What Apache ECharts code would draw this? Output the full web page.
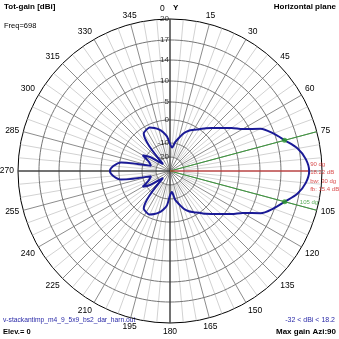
<!DOCTYPE html>
<html>
<head>
<meta charset="utf-8">
<script src="https://cdn.jsdelivr.net/npm/echarts@6/dist/echarts.min.js"></script>
<style>
  html, body { margin: 0; padding: 0; background: #fff; }
  #chart { width: 339px; height: 339px; }
</style>
</head>
<body>
<div id="chart"></div>
<script>
// Azimuth in degrees, clockwise from the Y axis
const azimuth = [
  0, 5, 10, 15, 20, 25, 30, 35, 40, 45, 50, 55, 60, 65, 70, 75, 80, 85,
  90, 95, 100, 105, 110, 115, 120, 125, 130, 135, 140, 145, 150, 155, 160, 165, 170, 175,
  180, 185, 190, 195, 200, 205, 210, 215, 220, 225, 230, 235, 240, 245, 250, 255, 260, 265,
  270, 275, 280, 285, 290, 295, 300, 305, 310, 315, 320, 325, 330, 335, 340, 345, 350, 355
];
// Total gain in dBi at each azimuth
const gainDbi = [
  -10.5, -12.5, -9.4, -6.7, -4.0, -2.3, -1.2, 0.0, 1.5, 2.9, 4.5, 6.6, 8.7, 12.0, 13.8, 15.22, 16.8, 17.8,
  18.22, 17.8, 16.8, 15.22, 13.8, 12.0, 8.7, 6.6, 4.5, 2.9, 1.5, 0.0, -1.2, -2.3, -4.0, -6.7, -9.4, -14.0,
  -12.0, -6.5, -4.3, -2.8, -1.8, -1.0, -1.2, -1.8, -8.0, -25.0, -20.0, -12.0, -8.0, -12.0, -14.0, -15.0, -0.5, 1.8,
  2.7, 1.8, -0.5, -15.0, -14.0, -12.0, -8.0, -12.0, -20.0, -25.0, -8.0, -1.8, -1.2, -1.0, -1.8, -2.8, -4.3, -6.5
];
// Gain levels marked by the rings, outermost first
const ringLevels = [20, 17, 14, 10, 5, 0, -10, -20];
// Beam summary
const maxGain = 18.22;
const maxAzimuth = 90;
const beamEdges = [75, 105];
const beamWidth = 30;
const frontToBack = 15.4;
const gainRange = [-32, 18.2];
const freqMHz = 698;
const elevation = 0;
const fileName = 'v-stackantimp_m4_9_5x9_bs2_dar_harn.out';

// ARRL-style log radial scale: gain (dB) -> fraction of the outer radius
const scaleKnots = [
  [-40, 0], [-30, 0.046], [-20, 0.092], [-10, 0.184], [0, 0.336],
  [5, 0.454], [10, 0.592], [14, 0.730], [17, 0.862], [20, 1]
];
function gainToRadius(db) {
  if (db <= scaleKnots[0][0]) return 0;
  for (let i = 1; i < scaleKnots.length; i++) {
    const [d0, r0] = scaleKnots[i - 1];
    const [d1, r1] = scaleKnots[i];
    if (db <= d1) {
      const t = (db - d0) / (d1 - d0);
      if (r0 <= 0) return r1 * t;
      return Math.exp(Math.log(r0) + t * (Math.log(r1) - Math.log(r0)));
    }
  }
  return 1;
}
function gainAt(az) {
  return gainDbi[azimuth.indexOf(az)];
}

const series = [];
const innerR = gainToRadius(ringLevels[ringLevels.length - 1]);

// Spokes every 5 degrees, darker every 15
for (let a = 0; a < 360; a += 5) {
  const major = a % 15 === 0;
  series.push({
    type: 'line', coordinateSystem: 'polar', showSymbol: false, silent: true,
    data: [[major ? 0 : innerR, a], [1, a]],
    lineStyle: { color: major ? '#8c8c8c' : '#d2d2d2', width: 1 }, z: major ? 2 : 1
  });
}

// Rings at each marked level
ringLevels.slice(1).forEach(level => {
  const pts = [];
  for (let a = 0; a <= 360; a += 2) pts.push([gainToRadius(level), a]);
  series.push({
    type: 'line', coordinateSystem: 'polar', data: pts, showSymbol: false, silent: true,
    lineStyle: { color: '#767676', width: 1 }, z: 2
  });
});

// Main crosshair axes
series.push({
  type: 'line', coordinateSystem: 'polar', showSymbol: false, silent: true,
  data: [[1, 0], [0, 0], [1, 180]], lineStyle: { color: '#202020', width: 1 }, z: 3
});
series.push({
  type: 'line', coordinateSystem: 'polar', showSymbol: false, silent: true,
  data: [[1, 270], [0, 270]], lineStyle: { color: '#202020', width: 1 }, z: 3
});

// Ring labels along the Y axis
series.push({
  type: 'scatter', coordinateSystem: 'polar', symbolSize: 0, silent: true,
  data: ringLevels.map(l => ({ value: [gainToRadius(l), 0], name: String(l) })),
  label: {
    show: true, position: 'left', distance: 1, formatter: p => p.name,
    fontSize: 8, fontFamily: 'Liberation Sans, Arial, sans-serif', color: '#000'
  }, z: 3
});

// Beamwidth edges
beamEdges.forEach(a => {
  series.push({
    type: 'line', coordinateSystem: 'polar', showSymbol: false, silent: true,
    data: [[0, a], [1, a]], lineStyle: { color: '#3c9a3c', width: 1 }, z: 4
  });
});
// Max gain direction
series.push({
  type: 'line', coordinateSystem: 'polar', showSymbol: false, silent: true,
  data: [[0, maxAzimuth], [gainToRadius(maxGain), maxAzimuth]],
  lineStyle: { color: '#d02020', width: 1 }, z: 4
});

// Pattern
const patternPts = azimuth.map((a, i) => [gainToRadius(gainDbi[i]), a]);
patternPts.push([gainToRadius(gainDbi[0]), 360]);
series.push({
  type: 'line', coordinateSystem: 'polar', data: patternPts, showSymbol: false, smooth: 0.3,
  lineStyle: { color: '#1a1a96', width: 2 }, z: 6
});

// Beam edge markers
series.push({
  type: 'scatter', coordinateSystem: 'polar', symbol: 'circle', symbolSize: 5,
  itemStyle: { color: '#2e9a2e' },
  data: beamEdges.map(a => [gainToRadius(gainAt(a)), a]), z: 7
});

// Max gain readout
series.push({
  type: 'scatter', coordinateSystem: 'polar', symbolSize: 0, silent: true,
  data: [[gainToRadius(maxGain), maxAzimuth]],
  label: {
    show: true, position: 'right', distance: 1, offset: [0, 6],
    formatter: [maxAzimuth + ' dg', maxGain.toFixed(2) + ' dB', 'bw: ' + beamWidth + ' dg', 'fb: ' + frontToBack + ' dB'].join('\n'),
    fontSize: 6, lineHeight: 8.5, fontFamily: 'Liberation Sans, Arial, sans-serif', color: '#d02020'
  }, z: 8
});
// Right beam edge readout
series.push({
  type: 'scatter', coordinateSystem: 'polar', symbolSize: 0, silent: true,
  data: [[1, beamEdges[1]]],
  label: {
    show: true, position: [-17, -11], formatter: beamEdges[1] + ' dg',
    fontSize: 6, fontFamily: 'Liberation Sans, Arial, sans-serif', color: '#2e9a2e'
  }, z: 8
});

const font = 'Liberation Sans, Arial, sans-serif';
const chart = echarts.init(document.getElementById('chart'), null, { renderer: 'canvas' });
chart.setOption({
  animation: false,
  backgroundColor: '#fff',
  polar: { center: [170, 171], radius: 152 },
  angleAxis: {
    type: 'value', min: 0, max: 360, interval: 15, startAngle: 90, clockwise: true,
    axisLine: { lineStyle: { color: '#000', width: 1 } },
    axisTick: { show: false },
    axisLabel: {
      margin: 4, fontSize: 8.5, fontFamily: font, color: '#000',
      formatter: v => (v === 0 || v === 90 || v === 360) ? '' : String(v)
    },
    splitLine: { show: false }
  },
  radiusAxis: {
    type: 'value', min: 0, max: 1,
    axisLine: { show: false }, axisTick: { show: false },
    axisLabel: { show: false }, splitLine: { show: false }
  },
  graphic: [
    { type: 'text', left: 4, top: 3, style: { text: 'Tot-gain [dBi]', font: 'bold 8px ' + font, fill: '#000' } },
    { type: 'text', left: 4, top: 22, style: { text: 'Freq=' + freqMHz, font: '7.5px ' + font, fill: '#000' } },
    { type: 'text', right: 3, top: 3, style: { text: 'Horizontal plane', font: 'bold 8px ' + font, fill: '#000' } },
    { type: 'text', left: 160, top: 4, style: { text: '0', font: '8.5px ' + font, fill: '#000' } },
    { type: 'text', left: 173, top: 4, style: { text: 'Y', font: 'bold 8px ' + font, fill: '#000' } },
    { type: 'text', left: 3, top: 317, style: { text: fileName, font: '6.7px ' + font, fill: '#2a2aa8' } },
    { type: 'text', left: 3, top: 328, style: { text: 'Elev.= ' + elevation, font: 'bold 7.5px ' + font, fill: '#000' } },
    { type: 'text', right: 4, top: 317, style: { text: gainRange[0] + ' < dBi < ' + gainRange[1], font: '7px ' + font, fill: '#2a2aa8' } },
    { type: 'text', right: 3, top: 328, style: { text: 'Max gain Azi:' + maxAzimuth, font: 'bold 8px ' + font, fill: '#000' } }
  ],
  series: series
});
</script>
</body>
</html>
